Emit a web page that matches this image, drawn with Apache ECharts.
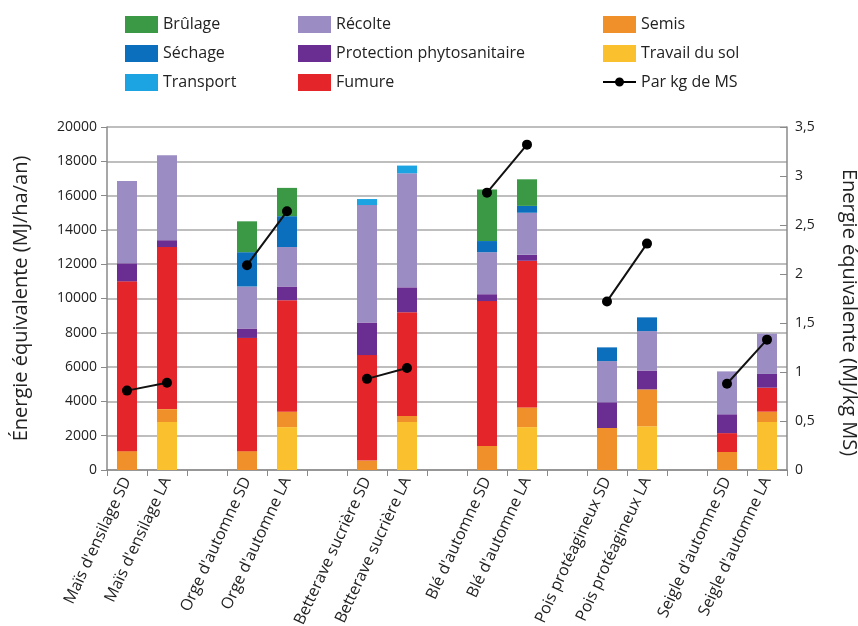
<!DOCTYPE html>
<html><head><meta charset="utf-8">
<script src="https://cdn.jsdelivr.net/npm/echarts@6/dist/echarts.min.js"></script>
<style>html,body{margin:0;padding:0;background:#fff}#c{width:858px;height:626px}</style>
</head><body><div id="c"></div>
<script>
var categories = ["Maïs d'ensilage SD","Maïs d'ensilage LA","Orge d'automne SD","Orge d'automne LA","Betterave sucrière SD","Betterave sucrière LA","Blé d'automne SD","Blé d'automne LA","Pois protéagineux SD","Pois protéagineux LA","Seigle d'automne SD","Seigle d'automne LA"];
var travailDuSol = [0, 2800, 0, 2500, 0, 2800, 0, 2500, 0, 2550, 0, 2800];
var semis        = [1100, 750, 1100, 900, 550, 350, 1400, 1150, 2450, 2150, 1050, 600];
var fumure       = [9900, 9450, 6600, 6500, 6150, 6050, 8450, 8550, 0, 0, 1100, 1400];
var protection   = [1050, 400, 550, 800, 1900, 1450, 400, 350, 1500, 1100, 1100, 800];
var recolte      = [4800, 4950, 2450, 2300, 6850, 6650, 2450, 2450, 2400, 2300, 2500, 2350];
var transport    = [0, 0, 0, 0, 350, 450, 0, 0, 0, 0, 0, 0];
var sechage      = [0, 0, 2000, 1800, 0, 0, 650, 400, 800, 800, 0, 0];
var brulage      = [0, 0, 1800, 1650, 0, 0, 3000, 1550, 0, 0, 0, 0];
var parKgMS      = [0.81, 0.89, 2.09, 2.64, 0.93, 1.04, 2.83, 3.32, 1.72, 2.31, 0.88, 1.33];
var leftTicks  = {min: 0, max: 20000, interval: 2000};
var rightTicks = {min: 0, max: 3.5, interval: 0.5};

// insert an empty slot after each pair
function withGaps(arr, empty) {
  var out = [];
  for (var i = 0; i < arr.length; i++) {
    out.push(arr[i]);
    if (i % 2 === 1 && i < arr.length - 1) out.push(empty);
  }
  return out;
}
function barData(arr){ return withGaps(arr.map(function(v){return v===0?'-':v;}), '-'); }

var FONT = '"Open Sans", "Noto Sans", sans-serif';
var colors = {
  'Travail du sol':'#fbc02d','Semis':'#f0902a','Fumure':'#e4262a','Protection phytosanitaire':'#6a2d91',
  'Récolte':'#9b8dc3','Transport':'#1ca4e2','Séchage':'#0b6fbd','Brûlage':'#3b9845'
};
var stackDefs = [
  ['Travail du sol', travailDuSol],['Semis', semis],['Fumure', fumure],['Protection phytosanitaire', protection],
  ['Récolte', recolte],['Transport', transport],['Séchage', sechage],['Brûlage', brulage]
];
var series = stackDefs.map(function(d){
  return {name:d[0], type:'bar', stack:'e', barWidth:20, data:barData(d[1]),
    itemStyle:{color:colors[d[0]]}};
});
series.push({name:'Par kg de MS', type:'line', yAxisIndex:1, data:withGaps(parKgMS,'-'),
  connectNulls:false, symbol:'circle', symbolSize:10, z:10,
  lineStyle:{color:'#111', width:2}, itemStyle:{color:'#000'}});

var legendCommon = {orient:'vertical', itemWidth:33, itemHeight:17, itemGap:12,
  textStyle:{fontFamily:FONT, fontSize:16, color:'#222'}, top:11, selectedMode:false};
var lineIcon = 'path://M0,7.5L33,7.5L33,9.5L0,9.5Z M12,8.5A4.5,4.5,0,1,1,21,8.5A4.5,4.5,0,1,1,12,8.5Z';

var chart = echarts.init(document.getElementById('c'), null, {renderer:'canvas'});
chart.setOption({
  animation:false,
  textStyle:{fontFamily:FONT},
  grid:{left:107, right:71, top:127, bottom:156, outerBoundsMode:'none', containLabel:false},
  legend:[
    Object.assign({left:120, data:[{name:'Brûlage',icon:'rect'},{name:'Séchage',icon:'rect'},{name:'Transport',icon:'rect'}]}, legendCommon),
    Object.assign({left:293, data:[{name:'Récolte',icon:'rect'},{name:'Protection phytosanitaire',icon:'rect'},{name:'Fumure',icon:'rect'}]}, legendCommon),
    Object.assign({left:598, data:[{name:'Semis',icon:'rect'},{name:'Travail du sol',icon:'rect'},{name:'Par kg de MS',icon:lineIcon}]}, legendCommon)
  ],
  xAxis:{type:'category', data:withGaps(categories,''), boundaryGap:true,
    axisLine:{lineStyle:{color:'#8a8a8a', width:1.5}},
    axisTick:{show:true, alignWithLabel:false, interval:0, length:6, lineStyle:{color:'#8a8a8a'}},
    axisLabel:{interval:0, rotate:65, fontSize:16, color:'#222', margin:8, fontFamily:FONT}},
  yAxis:[
    {type:'value', min:leftTicks.min, max:leftTicks.max, interval:leftTicks.interval,
     name:'Énergie équivalente (MJ/ha/an)', nameLocation:'middle', nameGap:76,
     nameTextStyle:{fontSize:20, color:'#222', fontFamily:FONT},
     axisLine:{show:true, lineStyle:{color:'#8a8a8a', width:1.5}},
     axisTick:{show:true, length:6, lineStyle:{color:'#8a8a8a'}},
     axisLabel:{fontSize:14, color:'#222', margin:10, fontFamily:FONT,
       formatter:function(v){return String(v);}},
     splitLine:{show:true, lineStyle:{color:'#a8a8a8', width:1.5}}},
    {type:'value', position:'right', min:rightTicks.min, max:rightTicks.max, interval:rightTicks.interval,
     name:'Énergie équivalente (MJ/kg MS)', nameLocation:'middle', nameGap:52, nameRotate:-90,
     nameTextStyle:{fontSize:20, color:'#222', fontFamily:FONT, padding:[0,0,0,28]},
     axisLine:{show:true, lineStyle:{color:'#8a8a8a', width:1.5}},
     axisTick:{show:true, inside:true, length:7, lineStyle:{color:'#8a8a8a'}},
     axisLabel:{fontSize:14, color:'#222', margin:8, fontFamily:FONT,
       formatter:function(v){return String(v).replace('.',',');}},
     splitLine:{show:false}}
  ],
  series:series
});
</script></body></html>
